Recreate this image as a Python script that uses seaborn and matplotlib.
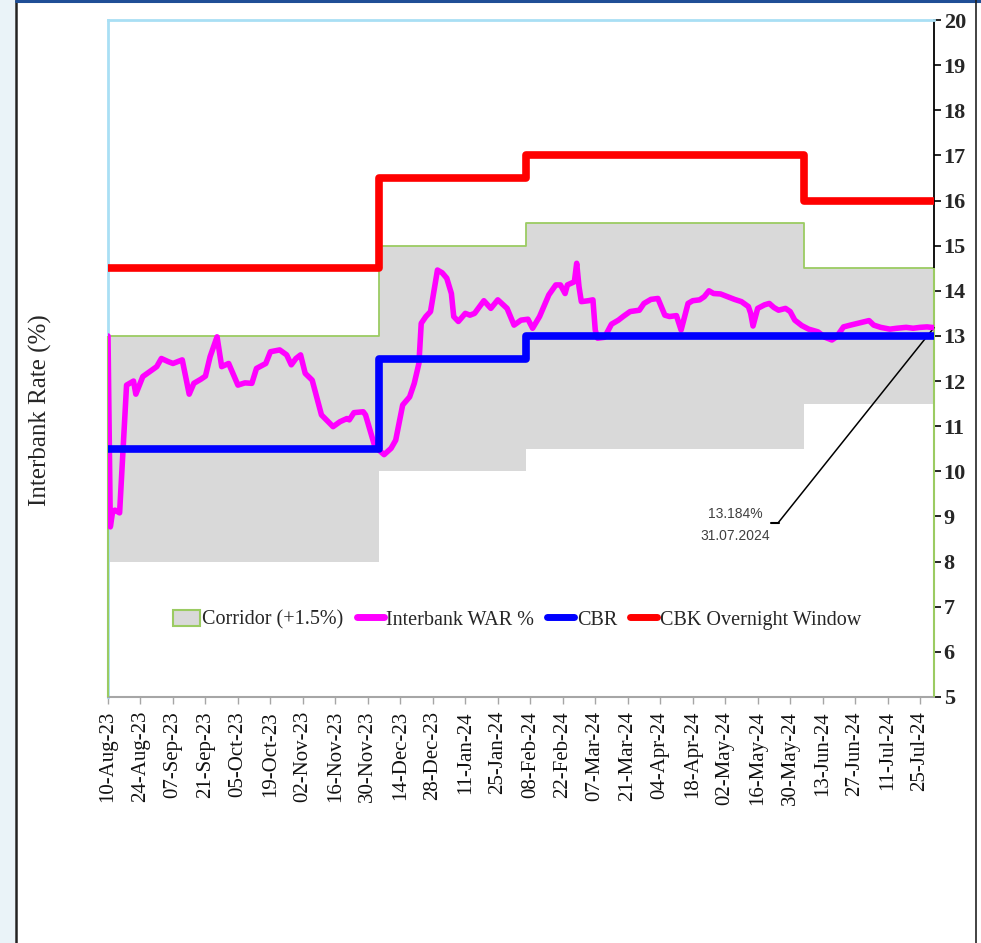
import matplotlib
matplotlib.use("Agg")
import matplotlib.pyplot as plt
from matplotlib.patches import Patch, Rectangle
from matplotlib.lines import Line2D
import pandas as pd
import seaborn as sns

# ---- Interbank weighted average rate (WAR), % ----
war_dates = [
    "2023-08-10", "2023-08-11", "2023-08-12", "2023-08-13", "2023-08-15", "2023-08-18",
    "2023-08-21", "2023-08-22", "2023-08-25", "2023-08-28", "2023-08-31",
    "2023-09-02", "2023-09-05", "2023-09-07", "2023-09-11", "2023-09-14", "2023-09-16",
    "2023-09-19", "2023-09-21", "2023-09-23", "2023-09-26", "2023-09-28",
    "2023-10-01", "2023-10-05", "2023-10-08", "2023-10-11", "2023-10-13", "2023-10-17",
    "2023-10-19", "2023-10-23", "2023-10-26", "2023-10-28", "2023-10-30",
    "2023-11-01", "2023-11-03", "2023-11-06", "2023-11-10", "2023-11-15", "2023-11-18",
    "2023-11-21", "2023-11-22", "2023-11-24", "2023-11-28", "2023-11-29",
    "2023-12-03", "2023-12-07", "2023-12-10", "2023-12-12", "2023-12-15", "2023-12-18",
    "2023-12-20", "2023-12-22", "2023-12-23", "2023-12-25", "2023-12-27", "2023-12-30",
    "2024-01-01", "2024-01-03", "2024-01-05", "2024-01-06", "2024-01-08", "2024-01-11",
    "2024-01-13", "2024-01-15", "2024-01-19", "2024-01-22", "2024-01-25", "2024-01-29",
    "2024-02-01", "2024-02-04", "2024-02-07", "2024-02-09", "2024-02-12", "2024-02-16",
    "2024-02-19", "2024-02-21", "2024-02-23", "2024-02-24", "2024-02-27", "2024-02-28",
    "2024-02-29",
    "2024-03-01", "2024-03-04", "2024-03-06", "2024-03-07", "2024-03-08", "2024-03-11",
    "2024-03-14", "2024-03-17", "2024-03-19", "2024-03-22", "2024-03-26", "2024-03-28",
    "2024-03-31",
    "2024-04-03", "2024-04-06", "2024-04-08", "2024-04-11", "2024-04-13", "2024-04-16",
    "2024-04-18", "2024-04-21", "2024-04-23", "2024-04-25", "2024-04-27", "2024-04-30",
    "2024-05-03", "2024-05-06", "2024-05-09", "2024-05-12", "2024-05-13", "2024-05-14",
    "2024-05-16", "2024-05-19", "2024-05-21", "2024-05-23", "2024-05-25", "2024-05-28",
    "2024-05-30",
    "2024-06-01", "2024-06-04", "2024-06-07", "2024-06-11", "2024-06-14", "2024-06-17",
    "2024-06-19", "2024-06-22", "2024-06-25", "2024-06-29",
    "2024-07-03", "2024-07-05", "2024-07-08", "2024-07-12", "2024-07-15", "2024-07-19",
    "2024-07-22", "2024-07-25", "2024-07-28", "2024-07-31",
]
war_values = [
    13.00, 8.77, 9.11, 9.14, 9.08, 11.91, 12.00, 11.71, 12.10, 12.21, 12.32,
    12.50, 12.43, 12.39, 12.47, 11.71, 11.95, 12.04, 12.11, 12.54, 12.98, 12.32,
    12.39, 11.91, 11.96, 11.95, 12.28, 12.39, 12.65, 12.69, 12.58, 12.36, 12.50,
    12.58, 12.17, 12.02, 11.25, 10.99, 11.10, 11.17, 11.14, 11.30, 11.32, 11.25,
    10.55, 10.37, 10.51, 10.69, 11.47, 11.65, 11.95, 12.39, 13.28, 13.43, 13.54, 14.46,
    14.40, 14.28, 13.94, 13.43, 13.32, 13.50, 13.46, 13.50, 13.78, 13.61, 13.80, 13.61,
    13.24, 13.35, 13.37, 13.17, 13.43, 13.91, 14.13, 14.13, 13.94, 14.13, 14.20, 14.61, 14.09,
    13.76, 13.78, 13.80, 13.13, 12.95, 12.97, 13.26, 13.35, 13.43, 13.54, 13.57, 13.72, 13.81,
    13.83, 13.46, 13.43, 13.45, 13.13, 13.72, 13.78, 13.80, 13.87, 14.00, 13.94, 13.93,
    13.87, 13.81, 13.76, 13.65, 13.50, 13.22, 13.61, 13.69, 13.72, 13.63, 13.57, 13.61, 13.54,
    13.35, 13.23, 13.15, 13.09, 12.97, 12.91, 12.98, 13.20, 13.24, 13.29,
    13.34, 13.24, 13.19, 13.15, 13.17, 13.19, 13.17, 13.19, 13.20, 13.184,
]

# ---- Policy settings: each value holds from its date until the next date ----
policy_dates = ["2023-08-10", "2023-12-05", "2024-02-06", "2024-06-05", "2024-07-31"]
cbr = [10.5, 12.5, 13.0, 13.0]
corridor_low = [8.0, 10.0, 10.5, 11.5]
corridor_high = [13.0, 15.0, 15.5, 14.5]
overnight_window = [14.5, 16.5, 17.0, 16.0]

tick_labels = [
    "10-Aug-23", "24-Aug-23", "07-Sep-23", "21-Sep-23", "05-Oct-23", "19-Oct-23",
    "02-Nov-23", "16-Nov-23", "30-Nov-23", "14-Dec-23", "28-Dec-23", "11-Jan-24",
    "25-Jan-24", "08-Feb-24", "22-Feb-24", "07-Mar-24", "21-Mar-24", "04-Apr-24",
    "18-Apr-24", "02-May-24", "16-May-24", "30-May-24", "13-Jun-24", "27-Jun-24",
    "11-Jul-24", "25-Jul-24",
]

latest_label = "13.184%\n31.07.2024"

# ---- Tables ----
war = pd.DataFrame({"date": pd.to_datetime(war_dates), "rate": war_values})
pdates = pd.to_datetime(policy_dates)


def step_frame(values):
    return pd.DataFrame({"date": pdates, "rate": list(values) + [values[-1]]})


cbr_df = step_frame(cbr)
on_df = step_frame(overnight_window)
low_df = step_frame(corridor_low)
high_df = step_frame(corridor_high)

# ---- Style ----
sns.set_style("white")
plt.rcParams["font.family"] = ["Liberation Serif", "DejaVu Serif"]

W, H = 981, 943
fig = plt.figure(figsize=(W / 100, H / 100), dpi=100)
fig.patch.set_facecolor("white")

# page frame
fig.add_artist(Rectangle((0, 0), 15 / W, 1, transform=fig.transFigure,
                         facecolor="#EAF3F8", edgecolor="none", zorder=0))
fig.add_artist(Line2D([16 / W, 16 / W], [0, 1], transform=fig.transFigure,
                      color="#222222", lw=1.8))
fig.add_artist(Line2D([16 / W, 1], [1 - 1 / H, 1 - 1 / H], transform=fig.transFigure,
                      color="#1F4E96", lw=2.2))
fig.add_artist(Line2D([976 / W, 976 / W], [0, 1], transform=fig.transFigure,
                      color="#222222", lw=1.2))

ax = fig.add_axes([108 / W, 246 / H, 826 / W, 677 / H])
ax.set_facecolor("white")

GREEN = "#9BCB62"
GREY_FILL = "#D9D9D9"

# corridor band
ax.fill_between(high_df["date"], low_df["rate"], high_df["rate"], step="post",
                color=GREY_FILL, lw=0, zorder=1)
ax.plot(high_df["date"], high_df["rate"], drawstyle="steps-post", color=GREEN, lw=1.3, zorder=1.5)
ax.vlines([pdates[0]], 5, corridor_high[0], color=GREEN, lw=1.5, zorder=3, clip_on=False)
ax.vlines([pdates[-1]], 5, corridor_high[-1], color=GREEN, lw=1.5, zorder=3, clip_on=False)

# rate lines
sns.lineplot(data=war, x="date", y="rate", ax=ax, color="#FF00FF", lw=4.0,
             legend=False, zorder=4)
sns.lineplot(data=cbr_df, x="date", y="rate", ax=ax, color="#0000FF", lw=5.5,
             drawstyle="steps-post", legend=False, zorder=5)
sns.lineplot(data=on_df, x="date", y="rate", ax=ax, color="#FF0000", lw=5.5,
             drawstyle="steps-post", legend=False, zorder=5)

# axes limits / ticks
ax.set_xlim(pdates[0], pdates[-1])
ax.set_ylim(5, 20)
ax.set_xlabel("")
ax.set_ylabel("")

tick_dates = pd.to_datetime(tick_labels, format="%d-%b-%y")
ax.set_xticks(tick_dates)
ax.set_xticklabels(tick_labels, rotation=90, fontsize=15, color="#111111")
ax.tick_params(axis="x", direction="out", length=5, width=1, color="#A6A6A6", pad=5,
               bottom=True)

ax.yaxis.tick_right()
ax.set_yticks(range(5, 21))
ax.tick_params(axis="y", direction="out", length=5, width=1.2, color="black", pad=2,
               right=True, left=False)
for lbl in ax.get_yticklabels():
    lbl.set_fontsize(16)
    lbl.set_fontweight("bold")

for side, col, lw in [("top", "#A9DFF4", 2.0), ("left", "#A9DFF4", 2.0),
                      ("right", "black", 1.3), ("bottom", "#A6A6A6", 1.5)]:
    ax.spines[side].set_visible(True)
    ax.spines[side].set_color(col)
    ax.spines[side].set_linewidth(lw)

fig.text(40 / W, 1 - 410 / H, "Interbank Rate (%)", rotation=90, ha="center",
         va="center", fontsize=18)

# legend
handles = [
    Patch(facecolor=GREY_FILL, edgecolor=GREEN, lw=1.5, label="Corridor (+1.5%)"),
    Line2D([], [], color="#FF00FF", lw=5, solid_capstyle="round", label="Interbank WAR %"),
    Line2D([], [], color="#0000FF", lw=5, solid_capstyle="round", label="CBR"),
    Line2D([], [], color="#FF0000", lw=5, solid_capstyle="round", label="CBK Overnight Window"),
]
ax.legend(handles=handles, loc="center", bbox_to_anchor=(0.495, 0.114), ncol=4,
          frameon=False, fontsize=14.5, handlelength=1.35, handleheight=0.85,
          handletextpad=0.12, columnspacing=0.65)

# latest-value callout
last_date = war["date"].iloc[-1]
last_rate = war["rate"].iloc[-1]
fig.text(735 / W, 1 - 525 / H, latest_label, ha="center", va="center",
         fontsize=10, color="#404040", family=["Liberation Sans", "DejaVu Sans"],
         linespacing=1.75)
ax.annotate("", xy=(last_date, last_rate), xycoords="data",
            xytext=(778, H - 523), textcoords="figure pixels",
            arrowprops=dict(arrowstyle="-", color="black", lw=1.1, shrinkA=0, shrinkB=0),
            annotation_clip=False)
ax.annotate("", xy=(771, H - 523), xycoords="figure pixels",
            xytext=(779, H - 523), textcoords="figure pixels",
            arrowprops=dict(arrowstyle="-", color="black", lw=1.5, shrinkA=0, shrinkB=0))

fig.savefig("out.png", dpi=100)
